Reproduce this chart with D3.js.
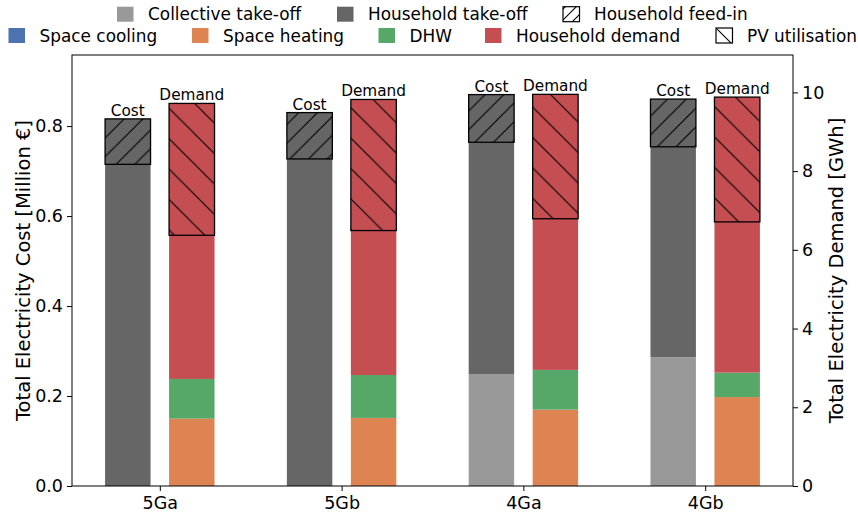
<!DOCTYPE html>
<html>
<head>
<meta charset="utf-8">
<script src="https://cdn.jsdelivr.net/npm/d3@7"></script>
<style>
  html, body { margin: 0; padding: 0; background: #fff; }
  svg { display: block; font-family: "DejaVu Sans", sans-serif; }
</style>
</head>
<body>
<svg id="chart" width="858" height="518"></svg>
<script>
// Scenarios
const categories = ["5Ga", "5Gb", "4Ga", "4Gb"];

// Cost stack [Million €]
const collectiveTakeoff = [0.0, 0.0, 0.248, 0.286];
const householdTakeoff  = [0.715, 0.727, 0.516, 0.468];
const householdFeedin   = [0.101, 0.103, 0.106, 0.106];

// Demand stack [GWh]
const spaceCooling    = [0.0, 0.0, 0.0, 0.0];
const spaceHeating    = [1.71, 1.73, 1.94, 2.26];
const dhw             = [1.01, 1.09, 1.01, 0.62];
const householdDemand = [7.0, 7.0, 7.0, 7.0];
const pvUtilisation   = [3.35, 3.33, 3.16, 3.17];

// Axis ticks
const costTicks   = [0.0, 0.2, 0.4, 0.6, 0.8];
const demandTicks = [0, 2, 4, 6, 8, 10];

const colors = {
  collective: "#999999",
  household: "#666666",
  cooling: "#4C72B0",
  heating: "#DD8452",
  dhw: "#55A868",
  demand: "#C44E52"
};

const svg = d3.select("#chart");
const plot = { left: 72, right: 793, top: 55, bottom: 486 };

const x = d3.scalePoint().domain(categories).range([plot.left, plot.right]).padding(0.483);
const step = x.step();
const barW = 0.25 * step;
const offset = 0.176 * step;

const yCost = d3.scaleLinear().domain([0, 0.958]).range([plot.bottom, plot.top]);
const yDem  = d3.scaleLinear().domain([0, 10.95]).range([plot.bottom, plot.top]);

// Hatch patterns
const defs = svg.append("defs");
function hatch(id, s, dir) {
  const p = defs.append("pattern")
    .attr("id", id).attr("patternUnits", "userSpaceOnUse")
    .attr("width", s).attr("height", s);
  const d = dir === "/"
    ? `M0,${s} L${s},0 M${-s / 2},${s / 2} L${s / 2},${-s / 2} M${s / 2},${s * 1.5} L${s * 1.5},${s / 2}`
    : `M0,0 L${s},${s} M${-s / 2},${s / 2} L${s / 2},${s * 1.5} M${s / 2},${-s / 2} L${s * 1.5},${s / 2}`;
  p.append("path").attr("d", d).attr("stroke", "#000").attr("stroke-width", 1.1).attr("fill", "none");
}
hatch("hatchCost", 18.7, "/");
hatch("hatchDem", 30.4, "\\");
hatch("hatchLegF", 11, "/");
hatch("hatchLegP", 16, "\\");

const g = svg.append("g");

// Cost bars
categories.forEach((c, i) => {
  const cx = x(c) - offset - barW / 2;
  let base = 0;
  const segs = [
    [collectiveTakeoff[i], colors.collective],
    [householdTakeoff[i], colors.household]
  ];
  segs.forEach(([v, col]) => {
    if (v > 0) {
      g.append("rect").attr("x", cx).attr("width", barW)
        .attr("y", yCost(base + v)).attr("height", yCost(base) - yCost(base + v))
        .attr("fill", col);
    }
    base += v;
  });
  const top = base + householdFeedin[i];
  g.append("rect").attr("x", cx).attr("width", barW)
    .attr("y", yCost(top)).attr("height", yCost(base) - yCost(top))
    .attr("fill", colors.household);
  g.append("rect").attr("x", cx).attr("width", barW)
    .attr("y", yCost(top)).attr("height", yCost(base) - yCost(top))
    .attr("fill", "url(#hatchCost)").attr("stroke", "#000").attr("stroke-width", 1.3);
  g.append("text").attr("x", cx + barW / 2).attr("y", yCost(top) - 3)
    .attr("text-anchor", "middle").attr("font-size", 15.3).text("Cost");
});

// Demand bars
categories.forEach((c, i) => {
  const dx = x(c) + offset - barW / 2;
  let base = 0;
  const segs = [
    [spaceCooling[i], colors.cooling],
    [spaceHeating[i], colors.heating],
    [dhw[i], colors.dhw],
    [householdDemand[i], colors.demand]
  ];
  segs.forEach(([v, col]) => {
    if (v > 0) {
      g.append("rect").attr("x", dx).attr("width", barW)
        .attr("y", yDem(base + v)).attr("height", yDem(base) - yDem(base + v))
        .attr("fill", col);
    }
    base += v;
  });
  const lo = base - pvUtilisation[i];
  g.append("rect").attr("x", dx).attr("width", barW)
    .attr("y", yDem(base)).attr("height", yDem(lo) - yDem(base))
    .attr("fill", "url(#hatchDem)").attr("stroke", "#000").attr("stroke-width", 1.3);
  g.append("text").attr("x", dx + barW / 2).attr("y", yDem(base) - 3)
    .attr("text-anchor", "middle").attr("font-size", 15.3).text("Demand");
});

// Frame
svg.append("rect").attr("x", plot.left).attr("y", plot.top)
  .attr("width", plot.right - plot.left).attr("height", plot.bottom - plot.top)
  .attr("fill", "none").attr("stroke", "#000").attr("stroke-width", 1);

// Axes
const tickFs = 17.5;
const ax = svg.append("g").attr("transform", `translate(0,${plot.bottom})`)
  .call(d3.axisBottom(x).tickSize(5).tickPadding(6));
const ayl = svg.append("g").attr("transform", `translate(${plot.left},0)`)
  .call(d3.axisLeft(yCost).tickValues(costTicks).tickFormat(d3.format(".1f")).tickSize(5).tickPadding(4));
const ayr = svg.append("g").attr("transform", `translate(${plot.right},0)`)
  .call(d3.axisRight(yDem).tickValues(demandTicks).tickFormat(d3.format("d")).tickSize(5).tickPadding(4));
[ax, ayl, ayr].forEach(a => {
  a.select(".domain").remove();
  a.selectAll("text").attr("font-size", tickFs).attr("font-family", "DejaVu Sans").attr("fill", "#000");
  a.selectAll("line").attr("stroke", "#000");
});

const labelFs = 19.5;
svg.append("text").attr("transform", `translate(30,${(plot.top + plot.bottom) / 2}) rotate(-90)`)
  .attr("text-anchor", "middle").attr("font-size", labelFs).text("Total Electricity Cost [Million €]");
svg.append("text").attr("transform", `translate(843,${(plot.top + plot.bottom) / 2}) rotate(-90)`)
  .attr("text-anchor", "middle").attr("font-size", labelFs).text("Total Electricity Demand [GWh]");

// Legend
const legFs = 16.9;
const legendItems = [
  { label: "Collective take-off", fill: colors.collective, x: 117, row: 0 },
  { label: "Household take-off", fill: colors.household, x: 337, row: 0 },
  { label: "Household feed-in", fill: "url(#hatchLegF)", x: 563, row: 0, edge: true },
  { label: "Space cooling", fill: colors.cooling, x: 8.5, row: 1 },
  { label: "Space heating", fill: colors.heating, x: 192, row: 1 },
  { label: "DHW", fill: colors.dhw, x: 378.5, row: 1 },
  { label: "Household demand", fill: colors.demand, x: 485, row: 1 },
  { label: "PV utilisation", fill: "url(#hatchLegP)", x: 716, row: 1, edge: true }
];
const lg = svg.append("g");
legendItems.forEach(d => {
  const cy = d.row === 0 ? 14.2 : 35.5;
  if (d.edge) {
    lg.append("rect").attr("x", d.x).attr("y", cy - 7.5).attr("width", 16.5).attr("height", 15)
      .attr("fill", "#fff");
  }
  lg.append("rect").attr("x", d.x).attr("y", cy - 7.5).attr("width", 16.5).attr("height", 15)
    .attr("fill", d.fill).attr("stroke", d.edge ? "#000" : "none").attr("stroke-width", 1.2);
  lg.append("text").attr("x", d.x + 31).attr("y", cy + 6).attr("font-size", legFs).text(d.label);
});
</script>
</body>
</html>
